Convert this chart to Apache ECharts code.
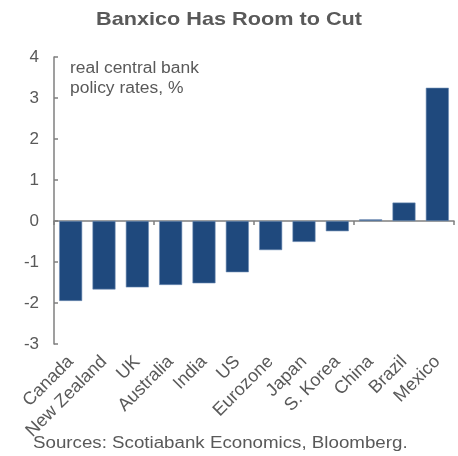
<!DOCTYPE html>
<html><head><meta charset="utf-8">
<script src="https://cdn.jsdelivr.net/npm/echarts@6/dist/echarts.min.js"></script>
<style>html,body{margin:0;padding:0;background:#fff}#c{width:458px;height:456px}</style>
</head><body><div id="c"></div>
<script>
const categories = ['Canada','New Zealand','UK','Australia','India','US','Eurozone','Japan','S. Korea','China','Brazil','Mexico'];
const rates = [-1.95,-1.67,-1.62,-1.56,-1.52,-1.25,-0.71,-0.51,-0.25,0.04,0.45,3.25];
const yTicks = [-3,-2,-1,0,1,2,3,4];

const font = 'Liberation Sans, Arial, sans-serif';
const txt = '#595959';
const axisCol = '#7f7f7f';
const chart = echarts.init(document.getElementById('c'));
chart.setOption({
  animation:false,
  graphic:[
    {type:'text',x:229,y:10,scaleX:1.14,style:{text:'Banxico Has Room to Cut',textAlign:'center',textVerticalAlign:'top',fontFamily:font,fontSize:19,fontWeight:'bold',fill:txt}},
    {type:'text',x:70,y:59,scaleX:1.09,style:{text:'real central bank\npolicy rates, %',textVerticalAlign:'top',fontFamily:font,fontSize:16,lineHeight:20,fill:txt}},
    {type:'text',x:33,y:436,scaleX:1.17,style:{text:'Sources: Scotiabank Economics, Bloomberg.',textVerticalAlign:'top',fontFamily:font,fontSize:16,fill:txt}}
  ],
  grid:{left:54,right:4,top:57,bottom:112},
  xAxis:[
    {type:'category',data:categories,position:'bottom',
     axisLine:{onZero:true,lineStyle:{color:axisCol,width:1.5}},
     axisTick:{show:true,alignWithLabel:false,length:4,lineStyle:{color:axisCol,width:1.5}},
     axisLabel:{show:false}},
    {type:'category',data:categories,position:'bottom',
     axisLine:{show:false,onZero:false},axisTick:{show:false},
     axisLabel:{rotate:45,interval:0,margin:15,fontFamily:font,fontSize:18,color:txt}}
  ],
  yAxis:{type:'value',min:-3,max:4,interval:1,
    axisLine:{show:true,lineStyle:{color:axisCol,width:1.5}},
    axisTick:{show:true,inside:true,length:4,lineStyle:{color:axisCol,width:1.5}},
    splitLine:{show:false},
    axisLabel:{margin:15,fontFamily:font,fontSize:17,color:txt,
      formatter:v=>yTicks.includes(v)?String(v):''}},
  series:[{type:'bar',data:rates,xAxisIndex:0,barCategoryGap:'31%',
    itemStyle:{color:'#1f497d',borderColor:'#6f8db5',borderWidth:0.6}}]
});
</script></body></html>
